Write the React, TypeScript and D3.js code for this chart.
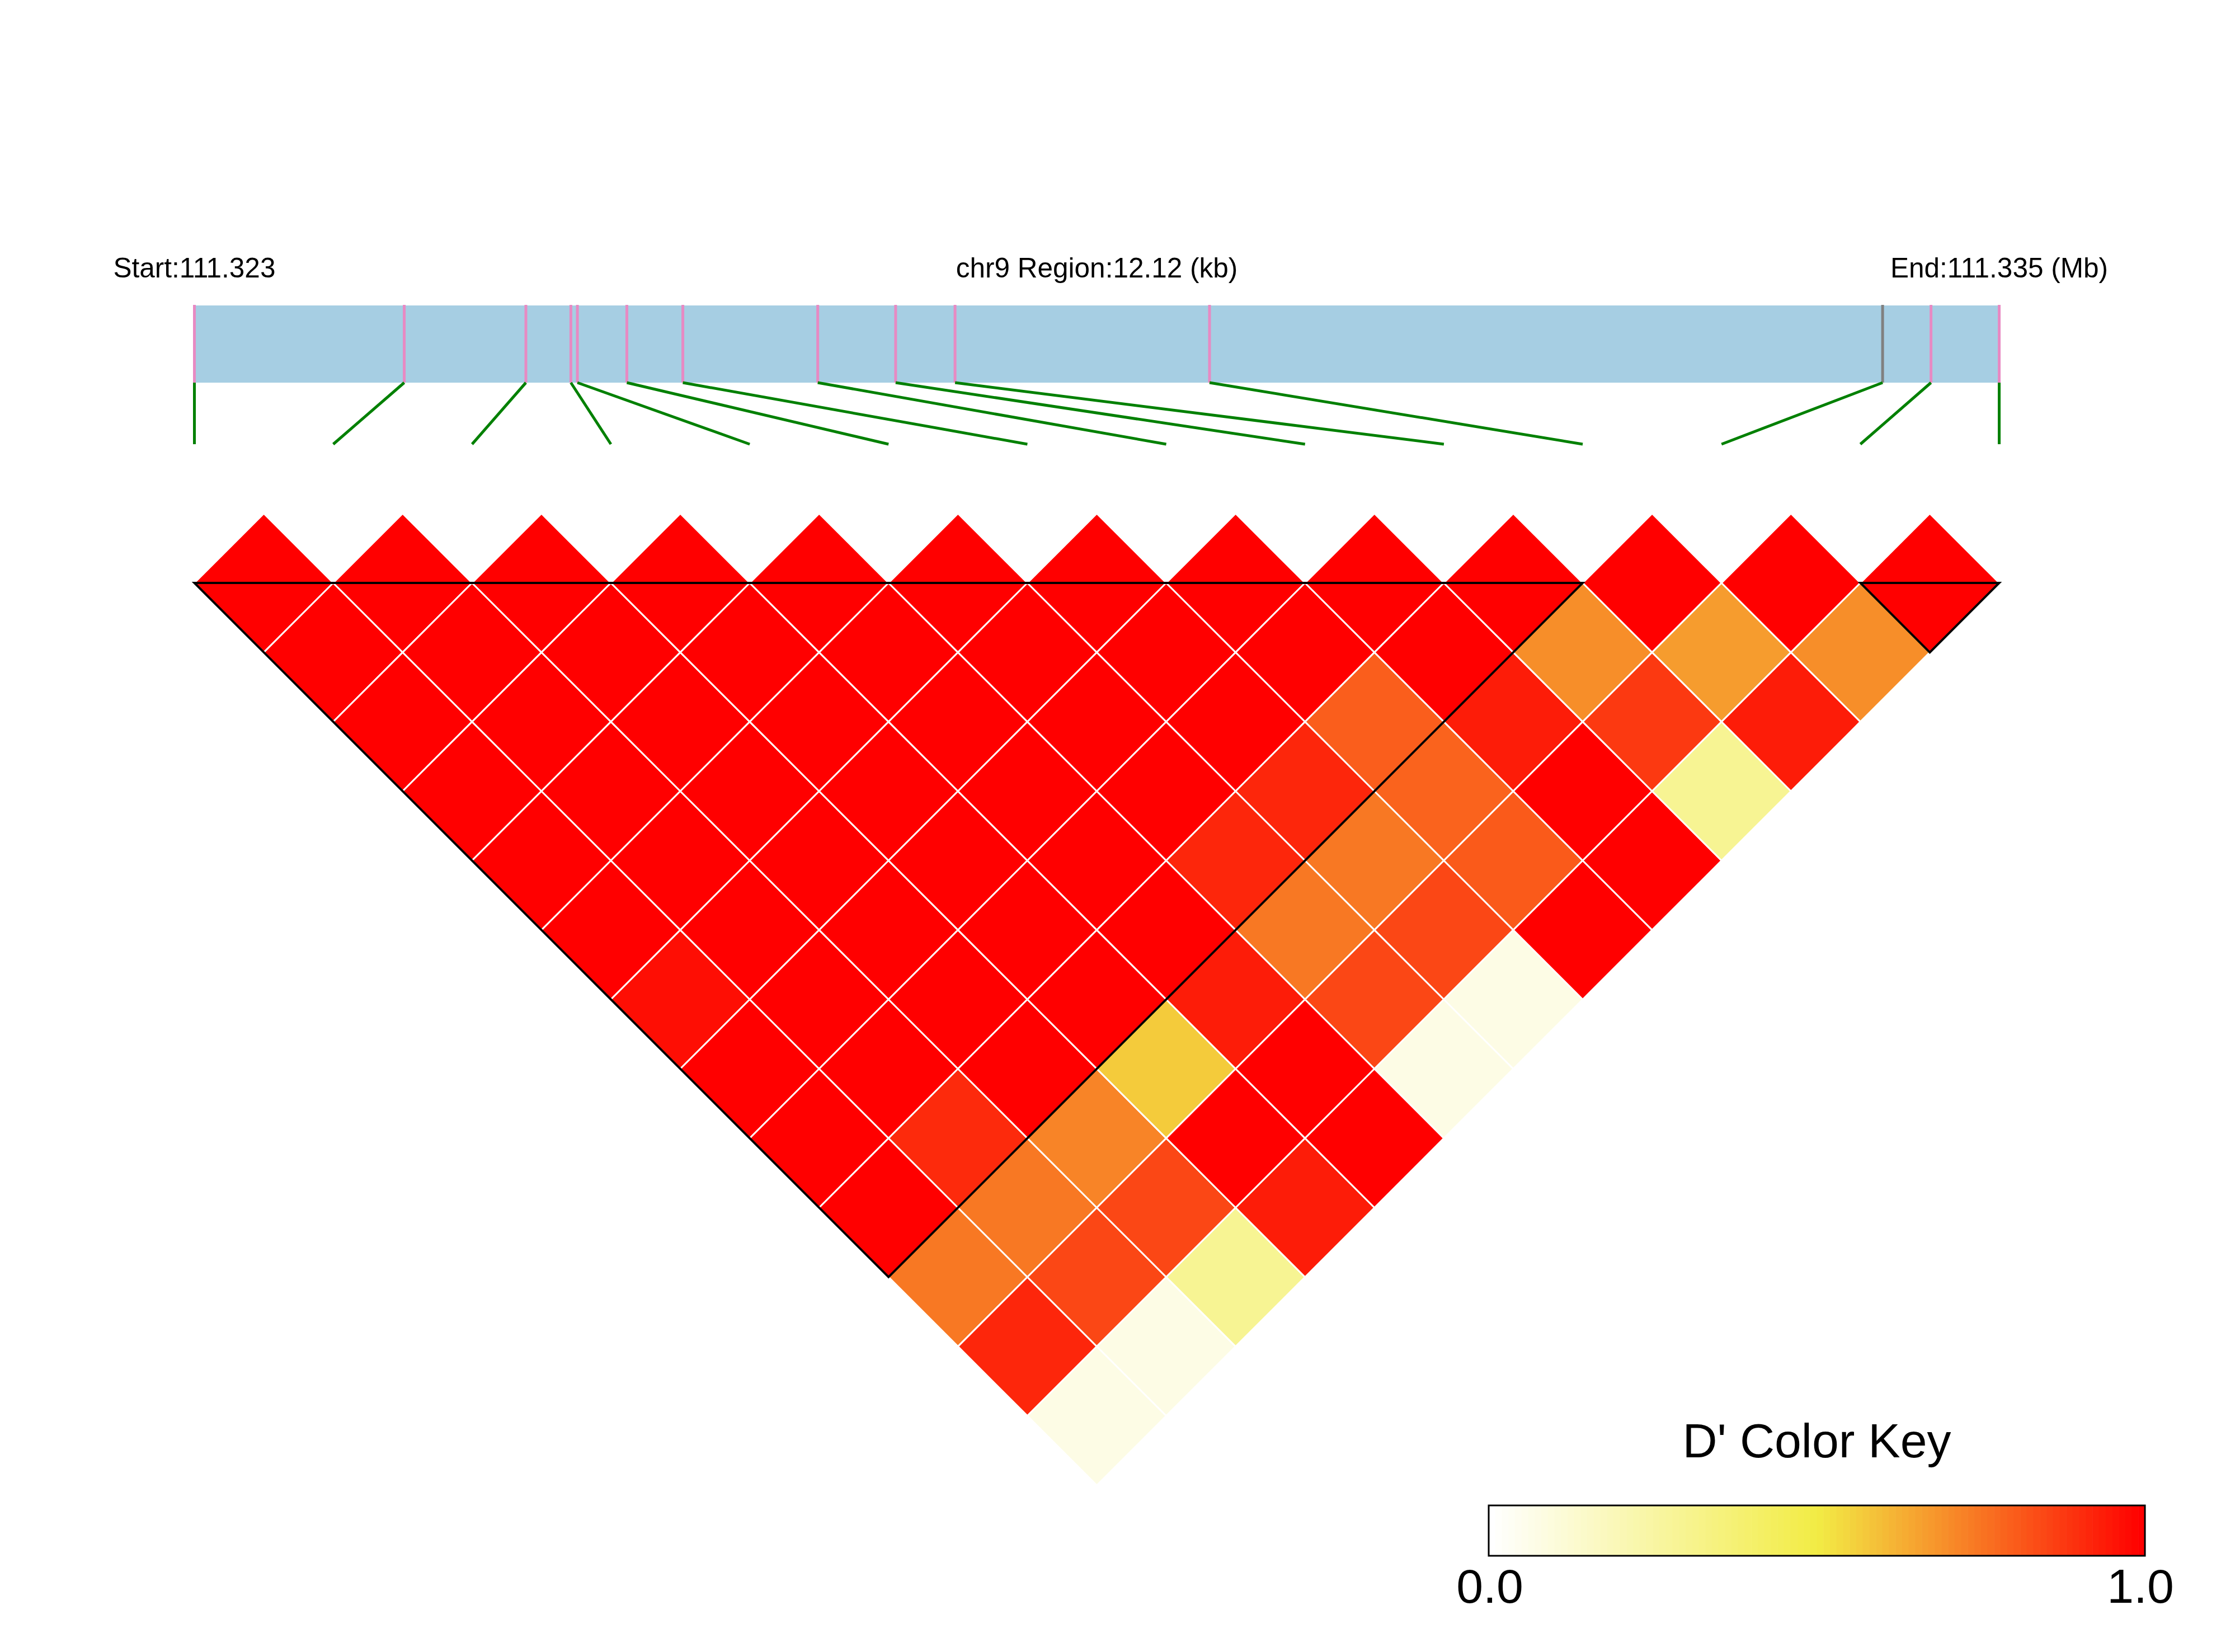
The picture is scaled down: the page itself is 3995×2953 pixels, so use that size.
import React, { useEffect } from 'react';
import * as d3 from 'd3';

// ---------------- data ----------------
const chromosome = 'chr9';
const regionStart = 111323150;
const regionEnd = 111335270;
// SNP offsets (bp) from regionStart
const snpOffsets = [0, 1409, 2226, 2528, 2572, 2904, 3280, 4186, 4709, 5108, 6817, 11337, 11662, 12120];
// index of SNP drawn with a grey tick in the gene bar
const greySnps = [11];
// D' values, row a holds pairs (a, a+1) ... (a, 13)
const dPrimeRows: number[][] = [
  [1, 1, 1, 1, 1, 1, 0.97, 1, 1, 1, 0.745, 0.92, 0.07],
  [1, 1, 1, 1, 1, 1, 1, 1, 0.91, 0.745, 0.85, 0.07],
  [1, 1, 1, 1, 1, 1, 1, 1, 0.72, 0.85, 0.29],
  [1, 1, 1, 1, 1, 1, 1, 0.57, 1, 0.94],
  [1, 1, 1, 1, 1, 1, 0.94, 1, 1],
  [1, 1, 1, 1, 0.92, 0.745, 0.85, 0.07],
  [1, 1, 1, 0.92, 0.745, 0.85, 0.07],
  [1, 1, 0.8, 0.79, 0.81, 1],
  [1, 1, 0.94, 1, 1],
  [1, 0.7, 0.88, 0.29],
  [1, 0.67, 0.94],
  [1, 0.7],
  [1],
];
// LD blocks (first SNP index, last SNP index)
const blocks: [number, number][] = [[0, 10], [12, 13]];
const keyStops = [0, 0.5, 1];
const keyColors = ['#FFFFFF', '#F2EC45', '#FF0000'];
const keyTickValues = [0, 1];
const keyTitle = "D' Color Key";

// ---------------- layout ----------------
const W = 3995;
const H = 2953;
const FONT = "'Liberation Sans', Arial, Helvetica, sans-serif";
const barX0 = 347.5;
const barX1 = 3573.5;
const barTop = 546;
const barBottom = 684;
const linkBottom = 794;
const heatTop = 1042;
const keyX0 = 2661;
const keyX1 = 3834;
const keyY0 = 2691;
const keyY1 = 2781;

export default function App() {
  useEffect(() => {
    document.body.style.margin = '0';
  }, []);

  const n = snpOffsets.length;
  const positions = snpOffsets.map((o) => regionStart + o);
  const xGene = d3.scaleLinear().domain([regionStart, regionEnd]).range([barX0, barX1]);
  const xEven = d3.scalePoint<number>().domain(d3.range(n)).range([barX0, barX1]).padding(0);
  const step = (xEven(1) as number) - (xEven(0) as number);
  const half = step / 2;
  const color = d3.scaleLinear<string>().domain(keyStops).range(keyColors).clamp(true);

  const cells: { a: number; b: number; v: number }[] = [];
  dPrimeRows.forEach((row, a) => {
    row.forEach((v, k) => {
      cells.push({ a, b: a + 1 + k, v });
    });
  });

  const cellPath = (a: number, b: number) => {
    const cx = ((xEven(a) as number) + (xEven(b) as number)) / 2;
    const cy = heatTop + (b - a - 1) * half;
    const p = d3.path();
    p.moveTo(cx, cy - half);
    p.lineTo(cx + half, cy);
    p.lineTo(cx, cy + half);
    p.lineTo(cx - half, cy);
    p.closePath();
    return p.toString();
  };

  const blockPath = (i: number, j: number) => {
    const xi = xEven(i) as number;
    const xj = xEven(j) as number;
    const p = d3.path();
    p.moveTo(xi, heatTop);
    p.lineTo(xj, heatTop);
    p.lineTo((xi + xj) / 2, heatTop + (j - i) * half);
    p.closePath();
    return p.toString();
  };

  const keyScale = d3.scaleLinear().domain([0, 1]).range([keyX0, keyX1]);
  const nStrips = 100;
  const stripW = (keyX1 - keyX0) / nStrips;

  const startLabel = `Start:${(regionStart / 1e6).toFixed(3)}`;
  const midLabel = `${chromosome} Region:${((regionEnd - regionStart) / 1000).toFixed(2)} (kb)`;
  const endLabel = `End:${(regionEnd / 1e6).toFixed(3)} (Mb)`;

  return (
    <svg
      width={W}
      height={H}
      viewBox={`0 0 ${W} ${H}`}
      style={{ position: 'absolute', left: 0, top: 0, background: '#fff' }}
      fontFamily={FONT}
    >
      <rect x={0} y={0} width={W} height={H} fill="#fff" />
      {/* header text */}
      <text x={barX0} y={496} fontSize={49.5} textAnchor="middle" fill="#000">{startLabel}</text>
      <text x={(barX0 + barX1) / 2} y={496} fontSize={49.5} textAnchor="middle" fill="#000">{midLabel}</text>
      <text x={barX1} y={496} fontSize={49.5} textAnchor="middle" fill="#000">{endLabel}</text>

      {/* gene bar */}
      <rect x={barX0} y={barTop} width={barX1 - barX0} height={barBottom - barTop} fill="#A6CEE3" />
      {positions.map((p, i) => (
        <line
          key={`t${i}`}
          x1={xGene(p)}
          x2={xGene(p)}
          y1={barTop - 1}
          y2={barBottom}
          stroke={greySnps.includes(i) ? '#808080' : '#E78AC3'}
          strokeWidth={5}
        />
      ))}
      {positions.map((p, i) => (
        <line
          key={`g${i}`}
          x1={xGene(p)}
          x2={xEven(i) as number}
          y1={barBottom}
          y2={linkBottom}
          stroke="#008000"
          strokeWidth={5}
        />
      ))}

      {/* LD heatmap */}
      {cells.map((c) => (
        <path
          key={`c${c.a}-${c.b}`}
          d={cellPath(c.a, c.b)}
          fill={color(c.v)}
          stroke="#FFFFFF"
          strokeWidth={3}
        />
      ))}
      {blocks.map(([i, j]) => (
        <path
          key={`b${i}`}
          d={blockPath(i, j)}
          fill="none"
          stroke="#000"
          strokeWidth={4}
          strokeLinejoin="miter"
        />
      ))}

      {/* color key */}
      <text x={(keyX0 + keyX1) / 2} y={2605} fontSize={86} textAnchor="middle" fill="#000">{keyTitle}</text>
      {d3.range(nStrips).map((k) => (
        <rect
          key={`k${k}`}
          x={keyX0 + k * stripW}
          y={keyY0}
          width={stripW + 0.6}
          height={keyY1 - keyY0}
          fill={color(k / (nStrips - 1))}
        />
      ))}
      <rect x={keyX0} y={keyY0} width={keyX1 - keyX0} height={keyY1 - keyY0} fill="none" stroke="#000" strokeWidth={3} />
      {keyTickValues.map((v) => (
        <text key={`kt${v}`} x={keyScale(v) + (v === 0 ? 2 : -8)} y={2865} fontSize={86} textAnchor="middle" fill="#000">
          {v.toFixed(1)}
        </text>
      ))}
    </svg>
  );
}
